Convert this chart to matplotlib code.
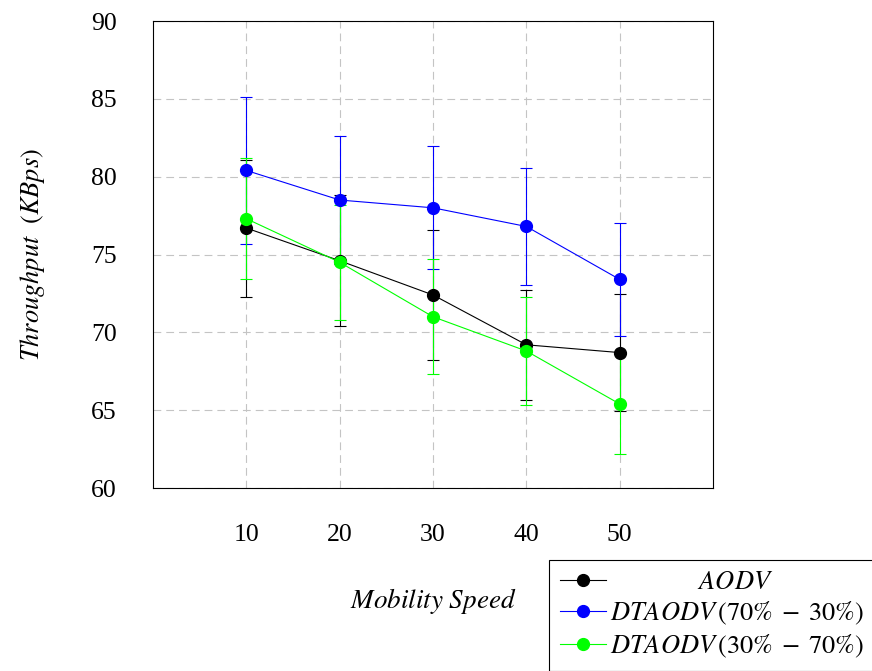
import numpy as np
import matplotlib.pyplot as plt

plt.rcParams['font.family'] = 'Liberation Serif'
plt.rcParams['mathtext.fontset'] = 'stix'

# Velocidades y throughput medio con su desviación
speed = [10, 20, 30, 40, 50]
aodv = [76.7, 74.6, 72.4, 69.2, 68.7]
aodv_err = [4.4, 4.2, 4.2, 3.55, 3.75]
dt_70_30 = [80.4, 78.5, 78.0, 76.8, 73.4]
dt_70_30_err = [4.75, 4.1, 3.95, 3.75, 3.65]
dt_30_70 = [77.3, 74.5, 71.0, 68.8, 65.4]
dt_30_70_err = [3.9, 3.7, 3.7, 3.45, 3.2]

series = [
    (aodv, aodv_err, 'black', r'$\qquad\qquad\ \ AODV$'),
    (dt_70_30, dt_70_30_err, '#0000ff', r'$DTAODV\,(70\%\;-\;30\%)$'),
    (dt_30_70, dt_30_70_err, '#00ff00', r'$DTAODV\,(30\%\;-\;70\%)$'),
]

fig = plt.figure(figsize=(8.72, 6.71), dpi=100)
ax = fig.add_axes([0.1755, 0.2727, 0.6422, 0.696])

handles = []
labels = []
for vals, err, col, lab in series:
    eb = ax.errorbar(speed, vals, yerr=err, color=col, lw=0.8, elinewidth=0.8,
                     capsize=4, capthick=0.8, marker='o', markersize=8.5)
    handles.append(eb[0])
    labels.append(lab)

ax.set_xlim(0, 60)
ax.set_ylim(60, 90)
ax.set_xticks(speed)
ax.set_yticks(np.arange(60, 91, 5))
ax.tick_params(length=0, labelsize=18.5, pad=26)
ax.grid(True, color='#c4c4c4', ls=(0, (7, 4.5)), lw=0.8)
for s in ax.spines.values():
    s.set_linewidth(0.8)

ax.set_ylabel(r'$Throughput\ \ (KBps)$', fontsize=19, labelpad=32)
fig.text(0.4966, 0.104, r'$Mobility\ Speed$', fontsize=19.5, ha='center', va='center')

leg = ax.legend(handles, labels, loc='upper left', bbox_to_anchor=(0.6296, 0.1654),
                bbox_transform=fig.transFigure, fontsize=19, fancybox=False,
                edgecolor='black', framealpha=1, handlelength=1.75,
                handletextpad=0.15, borderpad=0.4, labelspacing=0.22,
                borderaxespad=0)
leg.get_frame().set_linewidth(0.8)

fig.savefig('out.png', dpi=100)
